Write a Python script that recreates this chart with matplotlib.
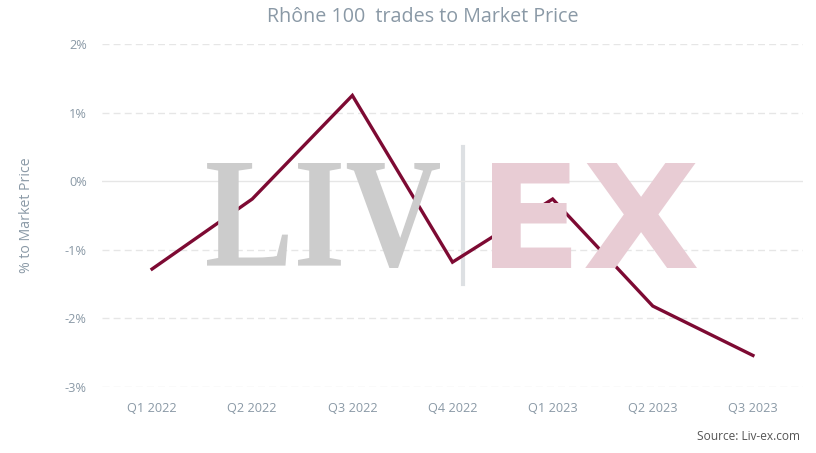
import matplotlib
matplotlib.use("Agg")
import matplotlib.pyplot as plt
from matplotlib.textpath import TextPath
from matplotlib.patches import PathPatch
from matplotlib.font_manager import FontProperties
from matplotlib.transforms import Affine2D

quarters = ["Q1 2022", "Q2 2022", "Q3 2022", "Q4 2022", "Q1 2023", "Q2 2023", "Q3 2023"]
pct_to_market = [-1.28, -0.26, 1.25, -1.18, -0.26, -1.82, -2.54]
y_ticks = [-3, -2, -1, 0, 1, 2]
y_tick_labels = ["-3%", "-2%", "-1%", "0%", "1%", "2%"]

W, H = 816, 453
plt.rcParams["font.family"] = ["Open Sans", "DejaVu Sans"]

fig = plt.figure(figsize=(W / 100, H / 100), dpi=100)
ax = fig.add_axes([102 / W, 1 - 387 / H, (803 - 102) / W, (387 - 44) / H])


def stretched_text(s, box, family, weight, color):
    # draw text scaled to fill a pixel box (x0, y0, x1, y1), y measured from top
    path = TextPath((0, 0), s, prop=FontProperties(family=family, weight=weight), size=100)
    ext = path.get_extents()
    x0, y0, x1, y1 = box
    fx0, fx1 = x0 / W, x1 / W
    fy0, fy1 = 1 - y1 / H, 1 - y0 / H
    tr = (Affine2D().translate(-ext.x0, -ext.y0)
          .scale((fx1 - fx0) / ext.width, (fy1 - fy0) / ext.height)
          .translate(fx0, fy0))
    patch = PathPatch(tr.transform_path(path), transform=fig.transFigure,
                      facecolor=color, edgecolor="none", zorder=0)
    fig.patches.append(patch)


# watermark
stretched_text("LIV", (207, 163, 440, 268), "Liberation Serif", "bold", "#cccccc")
stretched_text("EX", (492, 163, 697, 268), "DejaVu Sans", "bold", "#e8ccd4")
fig.add_artist(plt.Line2D([463 / W, 463 / W], [1 - 284 / H, 1 - 147 / H],
                          transform=fig.transFigure, color="#dde0e3", lw=3, zorder=0))

ax.set_facecolor("none")
for y in y_ticks:
    if y == 0:
        ax.axhline(y, color="#e6e6e6", lw=1, zorder=1)
    else:
        ax.axhline(y, color="#e6e6e6", lw=1, ls=(0, (5, 3)), zorder=1)

x = list(range(len(quarters)))
ax.plot(x, pct_to_market, color="#7d0a33", lw=2.4, zorder=3, solid_joinstyle="miter")

ax.set_xlim(-0.5, len(quarters) - 0.5)
ax.set_ylim(-3, 2)
ax.set_xticks(x)
ax.set_xticklabels(quarters)
ax.set_yticks(y_ticks)
ax.set_yticklabels(y_tick_labels)
ax.tick_params(axis="both", length=0, colors="#8a99a6", labelsize=9.2)
ax.tick_params(axis="x", pad=11)
ax.tick_params(axis="y", pad=11)
for sp in ax.spines.values():
    sp.set_visible(False)

ax.set_ylabel("% to Market Price", color="#8a99a6", fontsize=10.2)
ax.yaxis.set_label_coords(-68 / (803 - 102), 0.5)
fig.text(423 / W, 1 - 17 / H, "Rhône 100  trades to Market Price", ha="center", va="center",
         color="#8a99a6", fontsize=14.2)
fig.text(800 / W, 1 - 437 / H, "Source: Liv-ex.com", ha="right", va="center",
         color="#555555", fontsize=8.6)

fig.savefig("out.png", dpi=100)
